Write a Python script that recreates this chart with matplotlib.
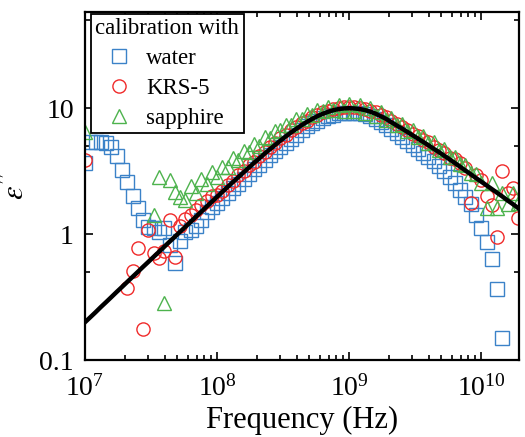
import numpy as np
import matplotlib
matplotlib.use("Agg")
import matplotlib.pyplot as plt
from matplotlib.ticker import FixedLocator, FixedFormatter, LogLocator, NullFormatter, LogFormatterMathtext

plt.rcParams['font.family'] = ['Liberation Serif', 'DejaVu Serif']
plt.rcParams['mathtext.fontset'] = 'stix'

nan = np.nan

# measurement frequency grid (Hz), log-spaced from 1e7 to ~1.9e10
freq = np.logspace(7.0, 10.28, 83)

# model curve (black line)
fit_eps = [0.200, 0.219, 0.240, 0.264, 0.289, 0.317, 0.348, 0.381, 0.418, 0.458,
           0.502, 0.551, 0.603, 0.661, 0.724, 0.794, 0.871, 0.953, 1.045, 1.143,
           1.253, 1.377, 1.507, 1.652, 1.807, 1.98, 2.168, 2.371, 2.592, 2.831,
           3.09, 3.373, 3.678, 4.0, 4.355, 4.72, 5.117, 5.534, 5.97, 6.41,
           6.87, 7.33, 7.78, 8.22, 8.65, 9.02, 9.35, 9.64, 9.84, 9.95,
           10.0, 9.95, 9.84, 9.66, 9.38, 9.04, 8.63, 8.22, 7.73, 7.29,
           6.89, 6.49, 6.10, 5.74, 5.40, 5.08, 4.76, 4.48, 4.19, 3.93,
           3.67, 3.43, 3.20, 2.99, 2.79, 2.61, 2.44, 2.28, 2.13, 1.99,
           1.85, 1.73, 1.61]

water = [3.68, 5.41, 5.41, 5.41, 5.25, 4.90, 4.17, 3.24, 2.57, 2.00,
         1.62, 1.29, 1.14, 1.12, 1.04, 1.12, 0.817, 0.589, 0.89, 1.04,
         1.07, 1.17, 1.29, 1.50, 1.64, 1.76, 1.93, 2.11, 2.31, 2.52,
         2.75, 3.01, 3.28, 3.56, 3.88, 4.21, 4.56, 4.93, 5.32, 5.71,
         6.12, 6.77, 7.18, 7.59, 7.98, 8.33, 8.63, 8.90, 9.08, 9.18,
         9.23, 9.18, 9.08, 8.92, 8.66, 8.24, 7.78, 7.32, 6.81, 6.35,
         5.93, 5.52, 5.13, 4.78, 4.44, 4.13, 3.78, 3.47, 3.16, 2.84,
         2.54, 2.26, 1.97, 1.74, 1.41, 1.12, 0.87, 0.63, 0.37, 0.15,
         nan, nan, nan]

krs5 = [3.89, nan, nan, nan, nan, nan, nan, nan, 0.372, 0.513,
        0.776, 0.178, 1.07, 0.708, 0.646, 0.741, 1.29, 0.661, 1.17, 1.32,
        1.41, 1.55, 1.70, 1.82, 2.00, 2.05, 2.22, 2.47, 2.66, 2.95,
        3.17, 3.51, 3.77, 4.16, 4.47, 4.91, 5.25, 5.75, 6.12, 6.66,
        7.04, 7.60, 7.97, 8.50, 8.85, 9.30, 9.55, 9.92, 10.0, 10.25,
        10.15, 10.2, 9.95, 9.9, 9.5, 9.3, 8.8, 8.5, 7.9, 7.55,
        7.05, 6.75, 6.25, 5.98, 5.55, 5.35, 4.95, 4.62, 4.38, 4.05,
        3.93, 3.67, 3.35, 1.78, 2.95, 2.69, 2.00, 1.70, 0.955, 3.16,
        2.14, 2.34, 1.35]

sapphire = [6.46, nan, nan, nan, nan, nan, nan, nan, nan, nan,
            nan, nan, nan, 1.41, 2.82, 0.282, 2.69, 2.16, 1.97, 1.86,
            2.40, 2.14, 2.75, 2.51, 3.09, 2.82, 3.44, 3.43, 4.00, 3.90,
            4.57, 4.45, 5.19, 5.04, 5.87, 5.81, 6.59, 6.65, 7.35, 7.36,
            8.26, 8.22, 8.93, 8.81, 9.70, 9.44, 10.26, 9.64, 10.67, 9.51,
            10.84, 9.51, 10.54, 9.12, 10.05, 8.63, 9.35, 8.04, 8.38, 7.29,
            7.55, 6.64, 6.76, 5.94, 6.05, 5.32, 5.35, 4.69, 4.70, 4.11,
            4.12, 3.59, 3.51, 3.06, 2.99, 2.55, 1.62, 2.55, 1.62, 2.14,
            1.74, 2.14, 1.78]

labels = ["water", "KRS-5", "sapphire"]
colors = ["#3b82c8", "#f02a2a", "#4db34d"]
markers = ["s", "o", "^"]

fig = plt.figure(figsize=(5.25, 4.37), dpi=100)
ax = fig.add_axes([0.162, 0.176, 0.827, 0.7965])

for vals, lab, col, mk in zip([water, krs5, sapphire], labels, colors, markers):
    ax.plot(freq, vals, linestyle="none", marker=mk, markersize=9.5,
            markerfacecolor="none", markeredgecolor=col, markeredgewidth=1.0,
            label=lab)

ax.plot(freq, fit_eps, color="black", linewidth=3.2, zorder=5)

ax.set_xscale("log")
ax.set_yscale("log")
ax.set_xlim(1e7, 1.94e10)
ax.set_ylim(0.1, 58)

ax.xaxis.set_major_locator(LogLocator(base=10, numticks=10))
ax.xaxis.set_major_formatter(LogFormatterMathtext())
ax.xaxis.set_minor_locator(LogLocator(base=10, subs=np.arange(2, 10), numticks=20))
ax.xaxis.set_minor_formatter(NullFormatter())
ax.yaxis.set_major_locator(FixedLocator([0.1, 1, 10]))
ax.yaxis.set_major_formatter(FixedFormatter(["0.1", "1", "10"]))
ax.yaxis.set_minor_locator(FixedLocator([0.5, 5, 50]))
ax.yaxis.set_minor_formatter(NullFormatter())

ax.tick_params(which="both", direction="in", top=True, right=True, width=1.2,
               labelsize=20, colors="black")
ax.tick_params(which="major", length=6)
ax.tick_params(which="minor", length=3.5)
ax.tick_params(axis="x", which="major", pad=11)
ax.tick_params(axis="y", which="major", pad=8)
for sp in ax.spines.values():
    sp.set_linewidth(1.6)

ax.set_xlabel("Frequency (Hz)", fontsize=22, labelpad=3)
ax.set_ylabel(r"$\varepsilon''$", fontsize=22, labelpad=6)

leg = ax.legend(title="calibration with", loc="upper left",
                bbox_to_anchor=(0.013, 0.995), borderaxespad=0,
                fontsize=16.5, title_fontsize=16.5, frameon=True, fancybox=False,
                framealpha=1, edgecolor="black", handlelength=0.75,
                handletextpad=0.8, labelspacing=0.38, borderpad=0.2,
                numpoints=1)
leg.get_frame().set_linewidth(1.3)
leg.set_zorder(10)

fig.savefig("out.png", dpi=100)
